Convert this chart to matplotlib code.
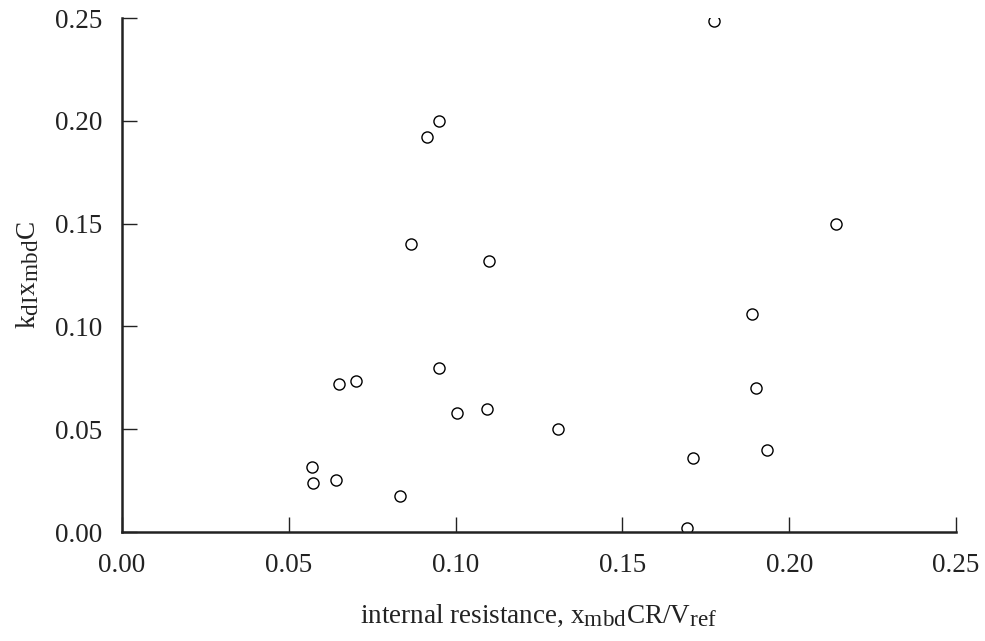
import matplotlib
matplotlib.use("Agg")
import matplotlib.pyplot as plt
import matplotlib._mathtext as _mt

_mt.SHRINK_FACTOR = 0.86

plt.rcParams['font.family'] = ['Liberation Serif', 'DejaVu Serif']
plt.rcParams['mathtext.default'] = 'regular'

internal_resistance = [0.0569, 0.0571, 0.0642, 0.0651, 0.0700, 0.0833, 0.0866,
                       0.0914, 0.0951, 0.0951, 0.1005, 0.1094, 0.1099, 0.1307,
                       0.1695, 0.1711, 0.1773, 0.1888, 0.1900, 0.1934, 0.2139]
kdI_xmbd_C = [0.0318, 0.0240, 0.0253, 0.0720, 0.0734, 0.0175, 0.1399,
              0.1920, 0.2001, 0.0799, 0.0577, 0.0600, 0.1320, 0.0502,
              0.0018, 0.0362, 0.2485, 0.1059, 0.0699, 0.0400, 0.1500]
ticks = [0.00, 0.05, 0.10, 0.15, 0.20, 0.25]
tick_labels = ["0.00", "0.05", "0.10", "0.15", "0.20", "0.25"]

fig = plt.figure(figsize=(9.85, 6.41), dpi=100)
ax = fig.add_axes([0.1239, 0.170, 0.8467, 0.8019])

ax.plot(internal_resistance, kdI_xmbd_C, linestyle='none', marker='o',
        markersize=8, markerfacecolor='white', markeredgecolor='black',
        markeredgewidth=1.0, clip_on=True)

ax.set_xlim(0, 0.25)
ax.set_ylim(0, 0.25)
ax.set_xticks(ticks)
ax.set_xticklabels(tick_labels)
ax.set_yticks(ticks)
ax.set_yticklabels(tick_labels)

for s in ['top', 'right']:
    ax.spines[s].set_visible(False)
for s in ['left', 'bottom']:
    ax.spines[s].set_linewidth(1.8)
    ax.spines[s].set_color('#222222')

ax.tick_params(direction='in', length=11, width=1.0, labelsize=19.5,
               colors='#222222')
ax.tick_params(axis='x', pad=15)
ax.tick_params(axis='y', pad=14)

ax.set_xlabel("internal resistance, $x_{mbd}$CR/V$_{ref}$", fontsize=19.5,
              labelpad=18, color='#222222')
ax.set_ylabel("k$_{dI}$x$_{mbd}$C", fontsize=19.5, labelpad=10, color='#222222')

fig.savefig("out.png", dpi=100)
